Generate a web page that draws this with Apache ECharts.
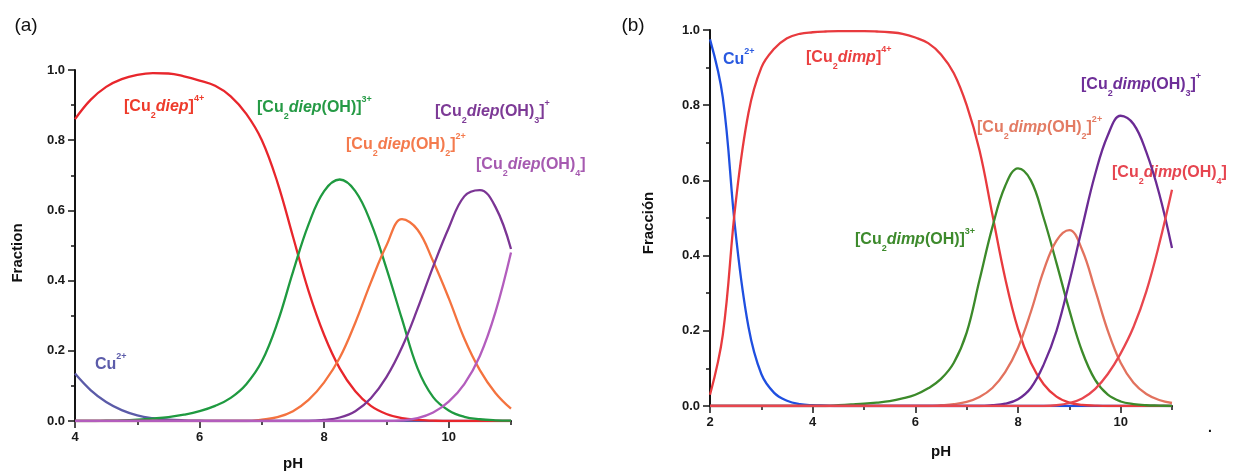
<!DOCTYPE html>
<html>
<head>
<meta charset="utf-8">
<script src="https://cdn.jsdelivr.net/npm/echarts@6.0.0/dist/echarts.min.js"></script>
<style>
	html,body{margin:0;padding:0;background:#fff;}
	#main{width:1235px;height:472px;}
</style>
</head>
<body>
<div id="main"></div>
<script>
// panel (a): Cu / diep, pH 4 - 11
var phA = [4,4.25,4.5,4.75,5,5.25,5.5,5.75,6,6.25,6.5,6.75,7,7.25,7.5,7.75,8,8.25,8.5,8.75,9,9.25,9.5,9.75,10,10.25,10.5,10.75,11];
var cuA    = [0.135,0.088,0.054,0.031,0.016,0.008,0.004,0.002,0.001,0,0,0,0,0,0,0,0,0,0,0,0,0,0,0,0,0,0,0,0];
var diepA  = [0.86,0.915,0.952,0.974,0.986,0.991,0.99,0.982,0.97,0.955,0.925,0.875,0.8,0.68,0.525,0.37,0.245,0.15,0.085,0.043,0.02,0.008,0.003,0.001,0,0,0,0,0];
var oh1A   = [0,0,0.001,0.002,0.004,0.007,0.011,0.018,0.028,0.043,0.066,0.105,0.17,0.28,0.425,0.56,0.655,0.688,0.655,0.565,0.435,0.29,0.15,0.068,0.03,0.012,0.005,0.002,0.001];
var oh2A   = [0,0,0,0,0,0,0,0,0,0,0,0,0.004,0.011,0.028,0.06,0.11,0.18,0.28,0.395,0.5,0.575,0.545,0.455,0.35,0.235,0.145,0.08,0.035];
var oh3A   = [0,0,0,0,0,0,0,0,0,0,0,0,0,0,0,0,0.003,0.01,0.028,0.065,0.125,0.21,0.32,0.44,0.55,0.64,0.658,0.61,0.49];
var oh4A   = [0,0,0,0,0,0,0,0,0,0,0,0,0,0,0,0,0,0,0,0,0,0.002,0.008,0.024,0.055,0.105,0.185,0.31,0.48];

// panel (b): Cu / dimp, pH 2 - 11
var phB = [2,2.25,2.5,2.75,3,3.25,3.5,3.75,4,4.25,4.5,4.75,5,5.25,5.5,5.75,6,6.25,6.5,6.75,7,7.25,7.5,7.75,8,8.25,8.5,8.75,9,9.25,9.5,9.75,10,10.25,10.5,10.75,11];
var cuB    = [0.975,0.82,0.46,0.21,0.085,0.035,0.014,0.005,0.002,0.001,0,0,0,0,0,0,0,0,0,0,0,0,0,0,0,0,0,0,0,0,0,0,0,0,0,0,0];
var dimpB  = [0.03,0.19,0.54,0.78,0.9,0.95,0.978,0.99,0.994,0.996,0.997,0.997,0.997,0.996,0.994,0.99,0.98,0.965,0.935,0.885,0.8,0.68,0.51,0.34,0.205,0.115,0.058,0.025,0.009,0.003,0.001,0,0,0,0,0,0];
var oh1B   = [0,0,0,0,0,0,0,0,0,0,0.002,0.004,0.006,0.009,0.013,0.02,0.03,0.047,0.072,0.115,0.195,0.335,0.475,0.585,0.632,0.6,0.5,0.38,0.255,0.145,0.07,0.03,0.012,0.005,0.002,0.001,0];
var oh2B   = [0,0,0,0,0,0,0,0,0,0,0,0,0,0,0,0,0,0,0.002,0.005,0.011,0.024,0.048,0.09,0.155,0.25,0.36,0.44,0.468,0.415,0.31,0.2,0.115,0.062,0.032,0.016,0.008];
var oh3B   = [0,0,0,0,0,0,0,0,0,0,0,0,0,0,0,0,0,0,0,0,0,0,0.002,0.006,0.018,0.048,0.11,0.2,0.33,0.475,0.615,0.72,0.772,0.75,0.675,0.565,0.42];
var oh4B   = [0,0,0,0,0,0,0,0,0,0,0,0,0,0,0,0,0,0,0,0,0,0,0,0,0,0,0,0.002,0.008,0.02,0.045,0.085,0.14,0.21,0.305,0.43,0.575];

var xTicksA = [4,6,8,10];
var xTicksB = [2,4,6,8,10];

function pairs(xs, ys){
	var out = [];
	for(var i=0;i<xs.length;i++){
		out.push([xs[i], ys[i]]);
	}
	return out;
}

function line(name, xs, ys, color, axis){
	return {
		name: name,
		type: 'line',
		xAxisIndex: axis * 2,
		yAxisIndex: axis,
		data: pairs(xs, ys),
		smooth: 0.4,
		showSymbol: false,
		lineStyle: {color: color, width: 2.3},
		itemStyle: {color: color},
		silent: true
	};
}

var axisColor = '#141414';
var font = 'Liberation Sans, Arial, sans-serif';

function minorX(grid, min, max){
	return {
		gridIndex: grid, type: 'value', min: min, max: max, interval: 1,
		position: 'bottom',
		axisLine: {show: true, onZero: false, lineStyle: {color: axisColor, width: 2}},
		axisTick: {show: true, length: 4, lineStyle: {color: axisColor, width: 1.5}},
		axisLabel: {show: false},
		splitLine: {show: false}
	};
}
function majorX(grid, min, max, ticks){
	return {
		gridIndex: grid, type: 'value', min: min, max: max, interval: 2,
		position: 'bottom',
		axisLine: {show: false, onZero: false},
		axisTick: {show: true, length: 7, lineStyle: {color: axisColor, width: 1.5}},
		axisLabel: {
			show: true, margin: 10, fontSize: 13, fontWeight: 'bold', color: '#1a1a1a',
			fontFamily: font,
			showMaxLabel: false,
			formatter: function(v){ return ticks.indexOf(v) >= 0 ? String(v) : ''; }
		},
		splitLine: {show: false}
	};
}
function yAx(grid){
	return {
		gridIndex: grid, type: 'value', min: 0, max: 1, interval: 0.2,
		axisLine: {show: true, onZero: false, lineStyle: {color: axisColor, width: 2}},
		axisTick: {show: true, length: 7, lineStyle: {color: axisColor, width: 1.5}},
		minorTick: {show: true, splitNumber: 2, length: 4, lineStyle: {color: axisColor, width: 1.5}},
		axisLabel: {
			margin: 10, fontSize: 13, fontWeight: 'bold', color: '#1a1a1a',
			fontFamily: font,
			formatter: function(v){ return v.toFixed(1); }
		},
		splitLine: {show: false}
	};
}

// species label with sub/superscripts
function label(text, x, y, color){
	var base = {fill: color, color: color, fontFamily: font, fontWeight: 'bold', lineHeight: 26};
	function st(extra){
		var o = {};
		for(var k in base) o[k] = base[k];
		for(var k2 in extra) o[k2] = extra[k2];
		return o;
	}
	return {
		type: 'text', x: x, y: y, silent: true,
		style: {
			text: text, align: 'left', verticalAlign: 'middle',
			rich: {
				n: st({fontSize: 16, verticalAlign: 'middle'}),
				i: st({fontSize: 16, fontStyle: 'italic', verticalAlign: 'middle'}),
				s: st({fontSize: 9, verticalAlign: 'bottom'}),
				p: st({fontSize: 9, verticalAlign: 'top'})
			}
		}
	};
}
function plain(text, x, y, size, weight, rot){
	return {
		type: 'text', x: x, y: y, rotation: rot || 0, silent: true,
		style: {
			text: text, align: 'center', verticalAlign: 'middle',
			fill: '#111', fontSize: size, fontWeight: weight,
			fontFamily: font
		}
	};
}

var chart = echarts.init(document.getElementById('main'));
chart.setOption({
	backgroundColor: '#fff',
	animation: false,
	grid: [
		{left: 75, top: 70, width: 436, height: 351},
		{left: 710, top: 30, width: 462, height: 376}
	],
	xAxis: [
		minorX(0, 4, 11), majorX(0, 4, 11, xTicksA),
		minorX(1, 2, 11), majorX(1, 2, 11, xTicksB)
	],
	yAxis: [yAx(0), yAx(1)],
	series: [
		line('Cu2+', phA, cuA, '#5b5ba8', 0),
		line('[Cu2diep]4+', phA, diepA, '#e8262c', 0),
		line('[Cu2diep(OH)]3+', phA, oh1A, '#1f9a40', 0),
		line('[Cu2diep(OH)2]2+', phA, oh2A, '#f4733f', 0),
		line('[Cu2diep(OH)3]+', phA, oh3A, '#7b3594', 0),
		line('[Cu2diep(OH)4]', phA, oh4A, '#b35dbd', 0),

		line('Cu2+', phB, cuB, '#1f4fe0', 1),
		line('[Cu2dimp]4+', phB, dimpB, '#e83a3e', 1),
		line('[Cu2dimp(OH)]3+', phB, oh1B, '#3c8a2a', 1),
		line('[Cu2dimp(OH)2]2+', phB, oh2B, '#e2725e', 1),
		line('[Cu2dimp(OH)3]+', phB, oh3B, '#6b2b94', 1),
		line('[Cu2dimp(OH)4]', phB, oh4B, '#e8464e', 1)
	],
	graphic: [
		plain('(a)', 26, 26, 19, 'normal'),
		plain('(b)', 633, 26, 19, 'normal'),
		plain('Fraction', 18, 253, 15, 'bold', Math.PI / 2),
		plain('Fracción', 649, 223, 15, 'bold', Math.PI / 2),
		plain('pH', 293, 464, 15, 'bold'),
		plain('pH', 941, 452, 15, 'bold'),
		plain('.', 1210, 428, 14, 'bold'),

		label('{n|[Cu}{s|2}{i|diep}{n|]}{p|4+}', 124, 107, '#ee3b2b'),
		label('{n|[Cu}{s|2}{i|diep}{n|(OH)]}{p|3+}', 257, 108, '#259a45'),
		label('{n|[Cu}{s|2}{i|diep}{n|(OH)}{s|3}{n|]}{p|+}', 435, 112, '#7d3a96'),
		label('{n|[Cu}{s|2}{i|diep}{n|(OH)}{s|2}{n|]}{p|2+}', 346, 145, '#f47a4d'),
		label('{n|[Cu}{s|2}{i|diep}{n|(OH)}{s|4}{n|]}', 476, 165, '#a65ab0'),
		label('{n|Cu}{p|2+}', 95, 365, '#5c5caa'),

		label('{n|Cu}{p|2+}', 723, 60, '#2a5ae0'),
		label('{n|[Cu}{s|2}{i|dimp}{n|]}{p|4+}', 806, 58, '#ea4040'),
		label('{n|[Cu}{s|2}{i|dimp}{n|(OH)}{s|3}{n|]}{p|+}', 1081, 85, '#6e2e98'),
		label('{n|[Cu}{s|2}{i|dimp}{n|(OH)}{s|2}{n|]}{p|2+}', 977, 128, '#e37b63'),
		label('{n|[Cu}{s|2}{i|dimp}{n|(OH)}{s|4}{n|]}', 1112, 173, '#e64550'),
		label('{n|[Cu}{s|2}{i|dimp}{n|(OH)]}{p|3+}', 855, 240, '#3d8a2c')
	]
});
</script>
</body>
</html>
